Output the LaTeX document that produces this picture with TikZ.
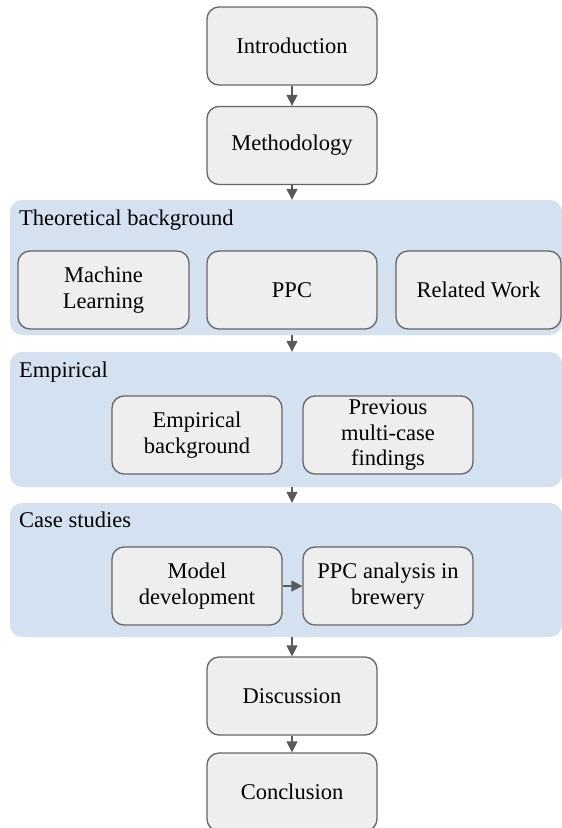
\documentclass[tikz,border=0pt]{standalone}
\usepackage{fontspec}
\setmainfont{Liberation Serif}
\usetikzlibrary{arrows.meta}
\definecolor{panelblue}{HTML}{D4E1F1}
\definecolor{boxfill}{HTML}{EEEEEE}
\definecolor{boxline}{HTML}{666666}
\definecolor{arrowgray}{HTML}{595959}
\begin{document}
\begin{tikzpicture}[x=1pt,y=-1pt,
  stepbox/.style={draw=boxline,line width=1.3pt,fill=boxfill,rounded corners=12pt,
    minimum width=170pt,minimum height=78pt,inner sep=0pt,align=center,
    font=\fontsize{22.5}{25.5}\selectfont},
  panel/.style={fill=panelblue,rounded corners=12pt,inner sep=0pt},
  paneltitle/.style={anchor=base west,inner sep=0pt,font=\fontsize{22.5}{25.5}\selectfont},
  arr/.style={draw=arrowgray,line width=1.4pt,-{Triangle[width=11pt,length=11pt]},arrowgray}]
\useasboundingbox (0,0) rectangle (562,828);
\clip (0,0) rectangle (562,828);

% section panels
\node[panel,minimum width=552pt,minimum height=135pt] (theo) at (286,267.5) {};
\node[panel,minimum width=552pt,minimum height=135pt] (emp)  at (286,419.5) {};
\node[panel,minimum width=552pt,minimum height=134pt] (case) at (286,570) {};
\node[paneltitle] (theot) at (19,225) {Theoretical background};
\node[paneltitle] (empt)  at (19,377) {Empirical};
\node[paneltitle] (caset) at (19,527) {Case studies};

% main chapters
\node[stepbox] (intro)  at (292,46)    {Introduction};
\node[stepbox] (method) at (292,145.5) {Methodology};
\node[stepbox] (disc)   at (292,696)   {Discussion};
\node[stepbox] (concl)  at (292,792)   {Conclusion};

% theoretical background
\node[stepbox,minimum width=171pt] (ml) at (103.5,290) {Machine\\Learning};
\node[stepbox] (ppc) at (292,290) {PPC};
\node[stepbox,minimum width=165pt] (rw) at (478.5,290) {Related Work};

% empirical part
\node[stepbox] (eb)   at (197,435) {Empirical\\background};
\node[stepbox] (prev) at (388,435) {Previous\\multi-case\\findings};

% case studies
\node[stepbox] (model) at (197,586) {Model\\development};
\node[stepbox] (ppca)  at (388,586) {PPC analysis in\\brewery};

% flow
\draw[arr] (intro) -- (method);
\draw[arr] (method) -- (method |- theo.north);
\draw[arr] (theo.south -| ppc) -- (emp.north -| ppc);
\draw[arr] (emp.south -| ppc) -- (case.north -| ppc);
\draw[arr] (case.south -| disc) -- (disc);
\draw[arr] (disc) -- (concl);
\draw[arr] (model) -- (ppca);
\end{tikzpicture}
\end{document}
